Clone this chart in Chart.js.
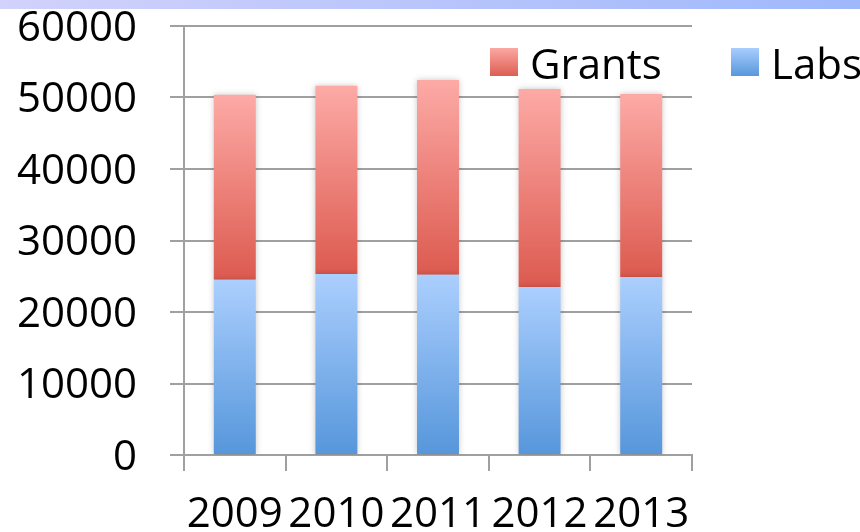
<!DOCTYPE html>
<html>
<head>
<meta charset="utf-8">
<script src="https://cdn.jsdelivr.net/npm/chart.js@4/dist/chart.umd.min.js"></script>
<style>
  html, body { margin: 0; padding: 0; background: #fff; }
  #wrap { position: relative; width: 860px; height: 532px; }
  #band { position: absolute; left: 0; top: 0; width: 860px; height: 9px;
          background: linear-gradient(to right, #d2d2fb, #9fb8fb); }
</style>
</head>
<body>
<div id="wrap">
  <canvas id="ch-funding" width="860" height="532"></canvas>
  <div id="band"></div>
</div>
<script>
const years = ['2009', '2010', '2011', '2012', '2013'];
const labs = [24500, 25300, 25200, 23500, 24900];
const grants = [25900, 26350, 27250, 27700, 25600];
const yTicks = [0, 10000, 20000, 30000, 40000, 50000, 60000];

const FONT = '"Open Sans", "Liberation Sans", sans-serif';

// vertical gradient across one stacked segment
function segGrad(ctx, lo, hi, cTop, cBottom) {
  const chart = ctx.chart;
  if (!chart.chartArea || ctx.dataIndex === undefined) return cBottom;
  const y = chart.scales.y;
  const g = chart.ctx.createLinearGradient(0, y.getPixelForValue(hi), 0, y.getPixelForValue(lo));
  g.addColorStop(0, cTop);
  g.addColorStop(1, cBottom);
  return g;
}

const legendItems = [
  { label: 'Grants', top: '#fba8a3', bottom: '#dd5d52', x: 490 },
  { label: 'Labs', top: '#a9cdfd', bottom: '#5797dc', x: 731 }
];

const barShadow = {
  id: 'barShadow',
  beforeDatasetsDraw(chart) {
    const c = chart.ctx;
    c.save();
    c.shadowColor = 'rgba(0,0,0,0.22)';
    c.shadowBlur = 6;
  },
  afterDatasetsDraw(chart) { chart.ctx.restore(); }
};

const cornerLegend = {
  id: 'cornerLegend',
  afterDraw(chart) {
    const c = chart.ctx;
    c.save();
    c.font = '42px ' + FONT;
    c.textBaseline = 'middle';
    legendItems.forEach(it => {
      const g = c.createLinearGradient(0, 48, 0, 76);
      g.addColorStop(0, it.top);
      g.addColorStop(1, it.bottom);
      c.fillStyle = g;
      c.fillRect(it.x, 48, 28, 28);
      c.fillStyle = '#000';
      c.fillText(it.label, it.x + 40, 67);
    });
    c.restore();
  }
};

new Chart(document.getElementById('ch-funding'), {
  type: 'bar',
  data: {
    labels: years,
    datasets: [
      { label: 'Labs', data: labs, borderWidth: 0,
        backgroundColor: ctx => segGrad(ctx, 0, labs[ctx.dataIndex], '#abcffe', '#5696db') },
      { label: 'Grants', data: grants, borderWidth: 0,
        backgroundColor: ctx => segGrad(ctx, labs[ctx.dataIndex], labs[ctx.dataIndex] + grants[ctx.dataIndex], '#fdaaa6', '#dc5a4f') }
    ]
  },
  options: {
    responsive: false, animation: false,
    devicePixelRatio: 1,
    layout: { padding: { top: 26, right: 168, left: 0, bottom: 0 } },
    datasets: { bar: { barPercentage: 0.413, categoryPercentage: 1 } },
    plugins: { legend: { display: false }, tooltip: { enabled: false } },
    scales: {
      x: {
        stacked: true,
        afterFit: s => { s.height = 77; s.paddingLeft = 0; s.paddingRight = 0; },
        grid: { offset: true, drawOnChartArea: false, drawTicks: true, tickLength: 16, color: '#a0a0a0', lineWidth: 2 },
        border: { color: '#a0a0a0', width: 2 },
        ticks: { color: '#000', font: { family: FONT, size: 42 }, padding: 19, maxRotation: 0, autoSkip: false }
      },
      y: {
        stacked: true, min: 0, max: 60000,
        afterFit: s => { s.width = 184; s.paddingTop = 0; s.paddingBottom = 0; },
        afterBuildTicks: s => { s.ticks = yTicks.map(v => ({ value: v })); },
        grid: { color: '#a0a0a0', lineWidth: 2, tickLength: 14 },
        border: { color: '#a0a0a0', width: 2 },
        ticks: { color: '#000', font: { family: FONT, size: 42 }, padding: 33, labelOffset: 3, callback: v => String(v) }
      }
    }
  },
  plugins: [barShadow, cornerLegend]
});
</script>
</body>
</html>
